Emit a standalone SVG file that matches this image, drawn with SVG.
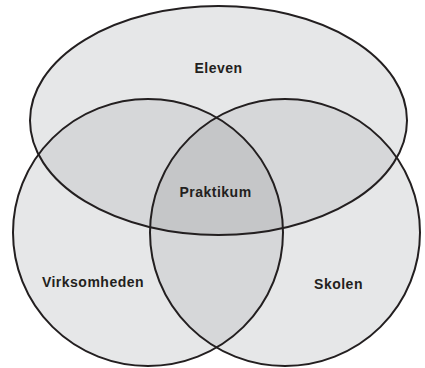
<svg xmlns="http://www.w3.org/2000/svg" width="425" height="368" viewBox="0 0 425 368">
<style>
.base{fill:#e6e7e8;stroke:none}
.dbl{fill:#d6d7d9}
.tri{fill:#c5c6c8}
.outline{fill:none;stroke:#231f20;stroke-width:2}
.lbl{font-family:"Liberation Sans",Arial,sans-serif;font-weight:bold;font-size:14px;fill:#231f20;text-anchor:middle;letter-spacing:0.5px}
</style>
<defs>
<clipPath id="cE"><ellipse cx="218.5" cy="120.5" rx="188.5" ry="114.5"/></clipPath>
<clipPath id="cL"><ellipse cx="148" cy="232.5" rx="135" ry="133.5"/></clipPath>
<clipPath id="cR"><ellipse cx="285" cy="232.5" rx="135" ry="133.5"/></clipPath>
</defs>
<rect width="425" height="368" fill="#ffffff"/>
<g id="fills">
<ellipse class="base" cx="218.5" cy="120.5" rx="188.5" ry="114.5"/>
<ellipse class="base" cx="148" cy="232.5" rx="135" ry="133.5"/>
<ellipse class="base" cx="285" cy="232.5" rx="135" ry="133.5"/>
<g clip-path="url(#cE)"><ellipse class="dbl" cx="148" cy="232.5" rx="135" ry="133.5"/><ellipse class="dbl" cx="285" cy="232.5" rx="135" ry="133.5"/></g>
<g clip-path="url(#cL)"><ellipse class="dbl" cx="285" cy="232.5" rx="135" ry="133.5"/></g>
<g clip-path="url(#cE)"><g clip-path="url(#cL)"><ellipse class="tri" cx="285" cy="232.5" rx="135" ry="133.5"/></g></g>
</g>
<g id="eleven">
<ellipse class="outline" cx="218.5" cy="120.5" rx="188.5" ry="114.5"/>
<text class="lbl" x="218.5" y="73">Eleven</text>
</g>
<g id="virksomheden">
<ellipse class="outline" cx="148" cy="232.5" rx="135" ry="133.5"/>
<text class="lbl" x="93" y="287">Virksomheden</text>
</g>
<g id="skolen">
<ellipse class="outline" cx="285" cy="232.5" rx="135" ry="133.5"/>
<text class="lbl" x="338.5" y="289">Skolen</text>
</g>
<g id="praktikum">
<text class="lbl" x="215.5" y="197">Praktikum</text>
</g>
<g id="connectors"/>
</svg>
